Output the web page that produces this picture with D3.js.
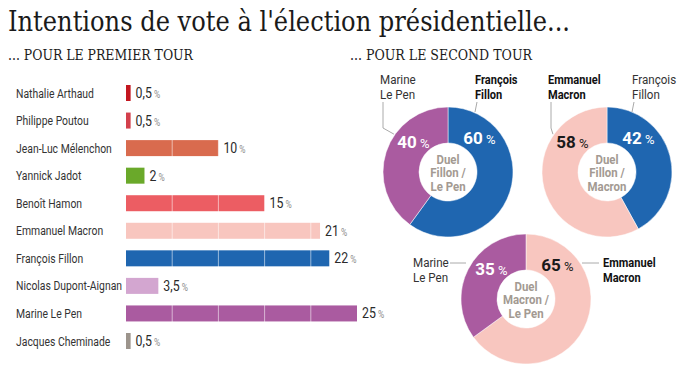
<!DOCTYPE html>
<html>
<head>
<meta charset="utf-8">
<script src="https://cdn.jsdelivr.net/npm/d3@7"></script>
<style>
  body { margin: 0; background: #fff; }
  svg { display: block; }
  .cond { font-family: Roboto, "DejaVu Sans", sans-serif; }
  .slab { font-family: "DejaVu Serif Condensed", "DejaVu Serif", serif; }
</style>
</head>
<body>
<div id="chart"></div>
<script>
const candidates = ["Nathalie Arthaud", "Philippe Poutou", "Jean-Luc Mélenchon", "Yannick Jadot", "Benoît Hamon",
    "Emmanuel Macron", "François Fillon", "Nicolas Dupont-Aignan", "Marine Le Pen", "Jacques Cheminade"];
const firstRound = [0.5, 0.5, 10, 2, 15, 21, 22, 3.5, 25, 0.5];
const candidateColors = ["#c3161f", "#d3404c", "#d96b4e", "#6aa92a", "#ec5d63",
    "#f8c6bf", "#1f66b0", "#d3a6d0", "#aa5ba0", "#9c948c"];
const gridTicks = [5, 10, 15, 20];

const duelCandidates = [["François Fillon", "Marine Le Pen"], ["François Fillon", "Emmanuel Macron"], ["Emmanuel Macron", "Marine Le Pen"]];
const duelValues = [[60, 40], [42, 58], [65, 35]];
const duelTitles = [["Duel", "Fillon /", "Le Pen"], ["Duel", "Fillon /", "Macron"], ["Duel", "Macron /", "Le Pen"]];

// where each donut sits and where its name labels start
const donutLayout = [
    {cx: 448, cy: 172, labels: "top", left: 380, right: 475},
    {cx: 607, cy: 172, labels: "top", left: 548, right: 632},
    {cx: 526, cy: 299, labels: "side", left: 413, right: 603}
];

const width = 680, height = 375;
const squeeze = 0.82; // fake a condensed face
const colorOf = d3.scaleOrdinal(candidates, candidateColors);
const fr = d3.formatLocale({decimal: ",", thousands: " ", grouping: [3], currency: ["", " €"]});
const fmt = fr.format(".2~f");

const svg = d3.select("#chart").append("svg")
    .attr("width", width)
    .attr("height", height);

function condText(parent, x, y, s, size, opts = {}) {
    return parent.append("text")
        .attr("class", "cond")
        .attr("transform", `translate(${x},${y}) scale(${opts.sx || squeeze},1)`)
        .attr("font-size", size)
        .attr("font-weight", opts.bold ? "bold" : "normal")
        .attr("fill", opts.fill || "#333")
        .attr("text-anchor", opts.anchor || "start")
        .text(s);
}

// titles
svg.append("text").attr("class", "slab")
    .attr("x", 8).attr("y", 31)
    .attr("font-size", 27).attr("fill", "#1a1a1a")
    .attr("textLength", 562).attr("lengthAdjust", "spacingAndGlyphs")
    .text("Intentions de vote à l'élection présidentielle...");
svg.append("text").attr("class", "slab")
    .attr("x", 8).attr("y", 60)
    .attr("font-size", 15).attr("fill", "#1a1a1a")
    .attr("textLength", 185).attr("lengthAdjust", "spacingAndGlyphs")
    .text("... POUR LE PREMIER TOUR");
svg.append("text").attr("class", "slab")
    .attr("x", 350).attr("y", 60)
    .attr("font-size", 15).attr("fill", "#1a1a1a")
    .attr("textLength", 182).attr("lengthAdjust", "spacingAndGlyphs")
    .text("... POUR LE SECOND TOUR");

// first round bars
const x = d3.scaleLinear([0, 25], [126, 357]);
const y = d3.scalePoint(candidates, [93, 341]);
const barH = 16;
const rows = candidates.map((name, i) => ({name, value: firstRound[i]}));

const bars = svg.append("g");
bars.selectAll("rect").data(rows).join("rect")
    .attr("x", x(0))
    .attr("y", d => y(d.name) - barH / 2)
    .attr("width", d => x(d.value) - x(0))
    .attr("height", barH)
    .attr("fill", d => colorOf(d.name));

bars.selectAll("line").data(gridTicks).join("line")
    .attr("x1", d => x(d)).attr("x2", d => x(d))
    .attr("y1", y.range()[0] - barH).attr("y2", y.range()[1] + barH)
    .attr("stroke", "#fff").attr("stroke-opacity", 0.55);

const labels = svg.append("g");
rows.forEach(d => {
    condText(labels, 16, y(d.name) + 4.5, d.name, 13, {sx: 0.8});
    const t = condText(labels, x(d.value) + 5, y(d.name) + 5, fmt(d.value), 14.5, {fill: "#2a2a2a", sx: 0.85});
    t.append("tspan").attr("font-size", 10).attr("fill", "#8a8a8a").text(" %");
});

// second round donuts
const pie = d3.pie().sort(null).value(d => d.value);
const rIn = 29, rOut = 65;
const arc = d3.arc().innerRadius(rIn).outerRadius(rOut);

duelValues.forEach((values, k) => {
    const L = donutLayout[k];
    const data = values.map((v, i) => ({name: duelCandidates[k][i], value: v}));
    const arcs = pie(data);
    const g = svg.append("g").attr("transform", `translate(${L.cx},${L.cy})`);

    g.selectAll("path").data(arcs).join("path")
        .attr("d", arc)
        .attr("fill", d => colorOf(d.data.name))
        .attr("stroke", "#fff").attr("stroke-width", 0.5);

    // percentages near the top of each slice
    const rMid = (rIn + rOut) / 2 - 1;
    arcs.forEach((d, i) => {
        const a = i === 0 ? d.startAngle + 0.75 : d.endAngle - 0.85;
        const light = colorOf(d.data.name) === "#f8c6bf";
        const t = condText(g, rMid * Math.sin(a), -rMid * Math.cos(a) + 6, d.data.value, 17,
            {bold: true, anchor: "middle", fill: light ? "#1a1a1a" : "#fff", sx: 1});
        t.append("tspan").attr("font-size", 13).attr("font-weight", "normal").text(" %");
    });

    // centre text
    duelTitles[k].forEach((s, i) => {
        condText(g, 0, -8.5 + i * 13.5, s, 13, {bold: true, anchor: "middle", fill: "#a39a92", sx: 0.88});
    });

    // candidate name labels, bold for the winner
    arcs.forEach((d, i) => {
        const side = i === 0 ? "right" : "left";
        const parts = d.data.name.split(" ");
        const lines = [parts[0], parts.slice(1).join(" ")];
        const bold = d.data.value > 50;
        const lx = side === "right" ? L.right : L.left;
        const baseY = L.labels === "top" ? L.cy - 88 : L.cy - 32;
        lines.forEach((s, j) => condText(svg, lx, baseY + j * 14.5, s, 13.5,
            {bold, fill: bold ? "#111" : "#333", sx: bold ? 0.82 : 0.86}));

        let pts;
        if (L.labels === "top") {
            if (side === "left") {
                const a = -0.96;
                pts = [[lx + 3, L.cy - 70], [lx + 3, L.cy - 44], [L.cx + 66 * Math.sin(a), L.cy - 66 * Math.cos(a)]];
            } else {
                pts = [[lx + 2, L.cy - 70], [lx, L.cy - 60]];
            }
        } else {
            const yy = L.cy - 36;
            pts = side === "left" ? [[L.left + 37, yy], [L.cx - 60, yy]] : [[L.cx + 56, yy], [lx - 4, yy]];
        }
        svg.append("path")
            .attr("d", d3.line()(pts))
            .attr("fill", "none")
            .attr("stroke", "#aaa")
            .attr("stroke-width", 1);
    });
});
</script>
</body>
</html>
